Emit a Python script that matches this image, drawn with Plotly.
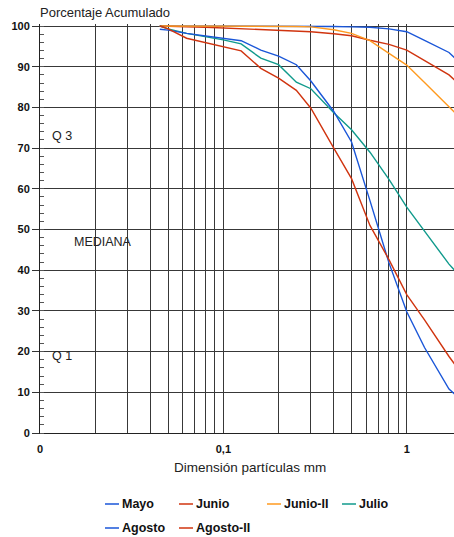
import plotly.graph_objects as go

# Sieve openings (mm) and cumulative passing percentage per sampling campaign
sizes_mm = [0.045, 0.05, 0.063, 0.08, 0.1, 0.125, 0.16, 0.2, 0.25, 0.3,
            0.4, 0.5, 0.63, 0.8, 1.0, 1.25, 1.7, 2.0]

mayo = [100, 100, 100, 100, 100, 100, 100, 100, 100, 99.9,
        99.9, 99.8, 99.7, 99.3, 98.6, 96.5, 93.5, 90.5]
junio = [100, 99.9, 99.8, 99.7, 99.5, 99.4, 99.2, 99.0, 98.8, 98.6,
         98.1, 97.6, 96.5, 95.5, 94.1, 91.6, 88.0, 85.0]
junio_ii = [100, 100, 100, 100, 100, 100, 100, 100, 99.9, 99.8,
            99.1, 98.2, 96.4, 93.3, 90.4, 86.1, 80.3, 77.0]
julio = [100, 99.3, 98.2, 97.4, 96.6, 95.6, 92.1, 90.5, 86.2, 84.6,
         78.7, 74.5, 69.0, 62.3, 55.5, 49.6, 41.5, 38.0]
agosto = [99.2, 99.0, 98.2, 97.6, 97.0, 96.4, 94.1, 92.6, 90.5, 86.5,
          79.0, 71.5, 57.1, 41.8, 29.8, 21.0, 10.8, 8.0]
agosto_ii = [100, 99.3, 97.0, 95.9, 94.9, 93.9, 89.6, 87.2, 84.2, 79.8,
             70.0, 62.5, 51.0, 42.6, 34.0, 27.8, 18.8, 14.5]

series_names = ["Mayo", "Junio", "Junio-II", "Julio", "Agosto", "Agosto-II"]
series_values = [mayo, junio, junio_ii, julio, agosto, agosto_ii]
series_colors = ["#1a56d8", "#d0340f", "#ff9a1f", "#109a8c", "#1a56d8", "#d0340f"]

# Log grid: every unit step inside each decade
grid_vals = [m * 10 ** e for e in (-2, -1) for m in range(1, 10)] + [1.0]
grid_text = ["0" if v == 0.01 else "0,1" if v == 0.1 else "1" if v == 1.0 else ""
             for v in grid_vals]

FONT = "Liberation Sans, Arial, sans-serif"
W, H = 454, 537
ML, MR, MT, MB = 40, 0, 24, 104
PW, PH = W - ML - MR, H - MT - MB


def pax(px):
    return (px - ML) / PW


def pay(py):
    return (H - MB - py) / PH


fig = go.Figure()
for name, vals, col in zip(series_names, series_values, series_colors):
    fig.add_trace(go.Scatter(
        x=sizes_mm, y=vals, mode="lines", name=name,
        line=dict(color=col, width=1.4), showlegend=False,
    ))

grid_col = "#383838"
fig.update_xaxes(
    type="log", range=[-2, 0.2577],
    tickvals=grid_vals, ticktext=grid_text,
    ticks="outside", ticklen=6, tickcolor="rgba(0,0,0,0)",
    showgrid=True, gridcolor=grid_col, gridwidth=1.2,
    showline=True, linecolor="#222", linewidth=1,
    tickfont=dict(family=FONT, size=11, color="#111", weight="bold"),
    zeroline=False, fixedrange=True,
)
fig.update_yaxes(
    range=[0, 100.5], tickvals=list(range(0, 101, 10)),
    ticks="outside", ticklen=7, tickcolor="#333",
    minor=dict(dtick=2, ticks="inside", ticklen=4, tickcolor="#555", showgrid=False),
    showgrid=True, gridcolor=grid_col, gridwidth=1.2,
    showline=True, linecolor="#222", linewidth=1,
    tickfont=dict(family=FONT, size=11, color="#111", weight="bold"),
    zeroline=False, fixedrange=True,
)

annotations = [
    dict(text="Porcentaje Acumulado", x=pax(38), y=pay(12), xanchor="left",
         yanchor="middle", font=dict(size=13, color="#222")),
    dict(text="Dimensión partículas mm", x=pax(250), y=pay(468), xanchor="center",
         yanchor="middle", font=dict(size=13.5, color="#222")),
    dict(text="Q 3", x=pax(50), y=pay(136), xanchor="left", yanchor="middle",
         font=dict(size=12.5, color="#222")),
    dict(text="MEDIANA", x=pax(72), y=pay(242), xanchor="left", yanchor="middle",
         font=dict(size=12.5, color="#222")),
    dict(text="Q 1", x=pax(50), y=pay(356), xanchor="left", yanchor="middle",
         font=dict(size=12.5, color="#222")),
]

# Legend laid out in two rows below the axis title
legend_slots = [(105, 504), (179, 504), (267, 504), (342, 504), (105, 528), (179, 528)]
shapes = []
for (sx, sy), name, col in zip(legend_slots, series_names, series_colors):
    shapes.append(dict(type="line", xref="paper", yref="paper",
                       x0=pax(sx), x1=pax(sx + 14), y0=pay(sy), y1=pay(sy),
                       line=dict(color=col, width=1.5)))
    annotations.append(dict(text=name, x=pax(sx + 15), y=pay(sy), xanchor="left",
                            yanchor="middle",
                            font=dict(size=12.5, color="#111", weight="bold")))

for a in annotations:
    a.setdefault("xref", "paper")
    a.setdefault("yref", "paper")
    a["showarrow"] = False
    a["font"].setdefault("family", FONT)

fig.update_layout(
    width=W, height=H,
    margin=dict(l=ML, r=MR, t=MT, b=MB, pad=0),
    paper_bgcolor="white", plot_bgcolor="white",
    annotations=annotations, shapes=shapes,
    showlegend=False,
)

fig.write_html("out.html", config={"displayModeBar": False})
